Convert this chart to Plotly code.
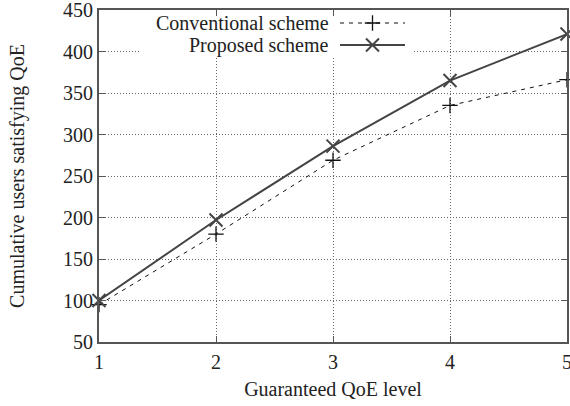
import plotly.graph_objects as go

qoe_levels = [1, 2, 3, 4, 5]
conventional = [95, 180, 269, 335, 366]
proposed = [100, 197, 286, 365, 421]
series_names = ["Conventional scheme", "Proposed scheme"]

FONT = "Liberation Serif"
FS = 20
L, R, T, B = 99, 3, 10, 64
W, H = 570, 406
px0, px1 = L, W - R
py0, py1 = T, H - B

DARK = "#111111"
GREY = "#444444"
TXT = "#222222"

fig = go.Figure()

fig.add_trace(go.Scatter(
    x=qoe_levels, y=conventional, mode="lines+markers", name=series_names[0],
    line=dict(color=DARK, width=1, dash="4px,5px"),
    marker=dict(symbol="cross-thin", size=11, line=dict(color=DARK, width=1.3)),
    cliponaxis=False, showlegend=False))
fig.add_trace(go.Scatter(
    x=qoe_levels, y=proposed, mode="lines+markers", name=series_names[1],
    line=dict(color=GREY, width=2),
    marker=dict(symbol="x-thin", size=13, line=dict(color=GREY, width=2)),
    cliponaxis=False, showlegend=False))

# white key box (covers grid), on a pixel-mapped overlay axis
fig.add_trace(go.Scatter(
    x=[140, 414, 414, 140, 140], y=[12, 12, 57, 57, 12], xaxis="x2", yaxis="y2",
    mode="lines", fill="toself", fillcolor="white", line=dict(width=0, color="white"),
    showlegend=False, hoverinfo="skip"))
# key samples
fig.add_trace(go.Scatter(
    x=[340, 405], y=[23, 23], xaxis="x2", yaxis="y2", mode="lines",
    line=dict(color=DARK, width=1, dash="4px,5px"), showlegend=False, hoverinfo="skip"))
fig.add_trace(go.Scatter(
    x=[372.5], y=[23], xaxis="x2", yaxis="y2", mode="markers",
    marker=dict(symbol="cross-thin", size=11, line=dict(color=DARK, width=1.3)),
    showlegend=False, hoverinfo="skip"))
fig.add_trace(go.Scatter(
    x=[340, 405], y=[45, 45], xaxis="x2", yaxis="y2", mode="lines",
    line=dict(color=GREY, width=2), showlegend=False, hoverinfo="skip"))
fig.add_trace(go.Scatter(
    x=[372.5], y=[45], xaxis="x2", yaxis="y2", mode="markers",
    marker=dict(symbol="x-thin", size=13, line=dict(color=GREY, width=2)),
    showlegend=False, hoverinfo="skip"))

annotations = [
    dict(x=331, y=23, xref="x2", yref="y2", text=series_names[0], showarrow=False,
         xanchor="right", yanchor="middle", font=dict(family=FONT, size=FS, color=TXT)),
    dict(x=331, y=45, xref="x2", yref="y2", text=series_names[1], showarrow=False,
         xanchor="right", yanchor="middle", font=dict(family=FONT, size=FS, color=TXT)),
]

axis_common = dict(
    showline=True, linecolor="#555555", linewidth=2, mirror="allticks",
    ticks="inside", ticklen=6, tickcolor="#555555", tickwidth=1,
    showgrid=True, gridcolor="#666666", gridwidth=1, griddash="1px,2px",
    zeroline=False, tickfont=dict(family=FONT, size=FS, color=TXT),
    ticklabeloverflow="allow", automargin=False,
)

fig.update_layout(
    width=W, height=H, margin=dict(l=L, r=R, t=T, b=B),
    paper_bgcolor="white", plot_bgcolor="white",
    xaxis=dict(range=[1, 5], tickvals=qoe_levels, ticklabelstandoff=1, **axis_common,
               title=dict(text="Guaranteed QoE level", font=dict(family=FONT, size=FS, color=TXT), standoff=10)),
    yaxis=dict(range=[50, 450], tickvals=list(range(50, 451, 50)), **axis_common,
               title=dict(text="Cumulative users satisfying QoE", font=dict(family=FONT, size=FS, color=TXT), standoff=33)),
    xaxis2=dict(overlaying="x", range=[px0, px1], visible=False, fixedrange=True),
    yaxis2=dict(overlaying="y", range=[py1, py0], visible=False, fixedrange=True),
    annotations=annotations, showlegend=False,
)

fig.write_html("out.html")
